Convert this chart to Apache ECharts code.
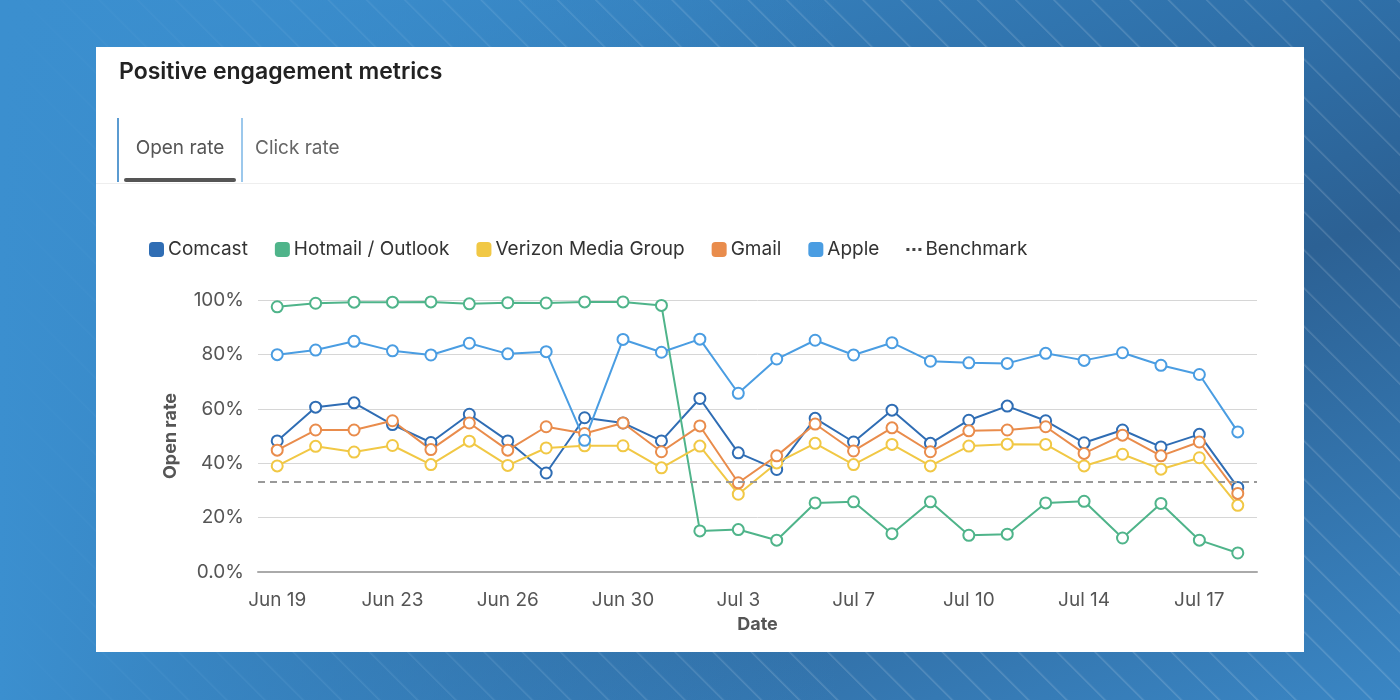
<!DOCTYPE html>
<html>
<head>
<meta charset="utf-8">
<script src="https://cdn.jsdelivr.net/npm/echarts@6/dist/echarts.min.js"></script>
<style>
  html, body { margin: 0; padding: 0; width: 1400px; height: 700px; overflow: hidden; }
  body {
    font-family: Inter, "Noto Sans", sans-serif;
    background:
      linear-gradient(90deg, rgba(59,143,207,1) 0%, rgba(59,143,207,0) 60%),
      repeating-linear-gradient(45deg, rgba(255,255,255,0) 0px, rgba(255,255,255,0) 24px, rgba(255,255,255,0.16) 25px, rgba(255,255,255,0) 27px),
      linear-gradient(160deg, #3b8fcf 0%, #2f70a9 40%, #2c6194 60%, #3a86c4 100%);
  }
  #panel { position: absolute; left: 96px; top: 47px; width: 1208px; height: 605px; background: #fff; }
  #title { position: absolute; left: 23px; top: 10px; font-size: 23px; font-weight: 600; color: #222; }
  .tab { position: absolute; top: 71px; height: 64px; font-size: 19px; color: #555; line-height: 60px; }
  #tab1 { left: 21px; width: 122px; border-left: 2px solid #5b9bd1; border-right: 2px solid #9cc8ec; text-align: center; }
  #tab1:after { content: ""; position: absolute; left: 5px; right: 5px; bottom: 0; height: 4px; border-radius: 2px; background: #555; }
  #tab2 { left: 159px; color: #666; }
  #sep { position: absolute; left: 0; right: 0; top: 136px; height: 1px; background: #eee; }
  #chart { position: absolute; left: 0; top: 0; width: 1208px; height: 605px; }
</style>
</head>
<body>
<div id="panel">
  <div id="chart"></div>
  <div id="title">Positive engagement metrics</div>
  <div class="tab" id="tab1">Open rate</div>
  <div class="tab" id="tab2">Click rate</div>
  <div id="sep"></div>
</div>
<script>
// 日期 (category axis)
var dates = ['Jun 19', 'Jun 20', 'Jun 21', 'Jun 23', 'Jun 24', 'Jun 25', 'Jun 26', 'Jun 27', 'Jun 28',
             'Jun 30', 'Jul 1', 'Jul 2', 'Jul 3', 'Jul 5', 'Jul 6', 'Jul 7', 'Jul 8', 'Jul 9',
             'Jul 10', 'Jul 12', 'Jul 13', 'Jul 14', 'Jul 15', 'Jul 16', 'Jul 17', 'Jul 18'];

// open rate (%) per mailbox provider
var comcast = [48.2, 60.6, 62.2, 54.2, 47.6, 58.0, 48.2, 36.4, 56.7, 54.8, 48.2, 63.8, 43.8,
               37.7, 56.5, 47.8, 59.5, 47.3, 55.8, 61.0, 55.6, 47.5, 52.2, 46.0, 50.6, 31.1];
var hotmail = [97.5, 98.8, 99.2, 99.2, 99.3, 98.6, 99.0, 98.9, 99.3, 99.3, 98.0, 15.1, 15.6,
               11.7, 25.4, 25.8, 14.1, 25.8, 13.5, 13.9, 25.4, 26.0, 12.5, 25.2, 11.7, 7.0];
var verizon = [39.0, 46.2, 44.1, 46.5, 39.5, 48.1, 39.2, 45.6, 46.4, 46.4, 38.3, 46.3, 28.6,
               40.1, 47.3, 39.5, 46.9, 39.0, 46.3, 47.0, 46.9, 39.0, 43.3, 37.8, 42.0, 24.5];
var gmail   = [44.8, 52.2, 52.2, 55.6, 45.0, 54.8, 44.8, 53.4, 50.9, 54.8, 44.2, 53.7, 32.8,
               42.7, 54.4, 44.5, 53.0, 44.2, 51.9, 52.2, 53.4, 43.6, 50.3, 42.7, 47.8, 28.9];
var apple   = [79.9, 81.6, 84.8, 81.3, 79.8, 84.1, 80.2, 81.0, 48.4, 85.5, 80.8, 85.6, 65.7,
               78.3, 85.2, 79.8, 84.3, 77.5, 76.9, 76.7, 80.4, 77.8, 80.6, 76.0, 72.6, 51.5];
var benchmark = 33;

var colors = ['#2f6db4', '#4fb48a', '#f1c845', '#e98c4c', '#4a9de2'];

function lineSeries(name, data, color){
    return {
        name: name,
        type: 'line',
        data: data,
        symbol: 'emptyCircle',
        symbolSize: 11,
        itemStyle: { color: color, borderWidth: 2 },
        lineStyle: { width: 2, color: color }
    };
}

var chart = echarts.init(document.getElementById('chart'));
var option = {
    animation: false,
    textStyle: { fontFamily: 'Inter, "Noto Sans", sans-serif' },
    legend: {
        left: 48,
        top: 188,
        itemWidth: 15,
        itemHeight: 15,
        itemGap: 27,
        textStyle: { fontSize: 19, color: '#333', padding: [0, 0, 0, -1] },
        data: [
            { name: 'Comcast', icon: 'roundRect' },
            { name: 'Hotmail / Outlook', icon: 'roundRect' },
            { name: 'Verizon Media Group', icon: 'roundRect' },
            { name: 'Gmail', icon: 'roundRect' },
            { name: 'Apple', icon: 'roundRect' },
            { name: 'Benchmark', icon: 'path://M0,6h2v2h-2z M4,6h2v2h-2z M8,6h2v2h-2z', itemStyle: { color: '#444' } }
        ]
    },
    grid: { left: 162, right: 47, top: 253, bottom: 80 },
    xAxis: {
        type: 'category',
        data: dates,
        name: 'Date',
        nameLocation: 'middle',
        nameGap: 44,
        nameTextStyle: { fontSize: 18, fontWeight: 'bold', color: '#555' },
        axisLine: { lineStyle: { color: '#aaa', width: 2 } },
        axisTick: { alignWithLabel: true, interval: 2, length: 7, lineStyle: { color: '#ccc' } },
        axisLabel: { interval: 2, fontSize: 19, color: '#555', margin: 19 }
    },
    yAxis: {
        type: 'value',
        min: 0,
        max: 100,
        interval: 20,
        name: 'Open rate',
        nameLocation: 'middle',
        nameGap: 78,
        nameTextStyle: { fontSize: 18, fontWeight: 'bold', color: '#555' },
        axisLine: { show: false },
        axisTick: { show: false },
        axisLabel: {
            fontSize: 19, color: '#555', margin: 14,
            formatter: function(v){ return v === 0 ? '0.0%' : v + '%'; }
        },
        splitLine: { lineStyle: { color: '#d6d6d6', width: 1 } }
    },
    series: [
        lineSeries('Comcast', comcast, colors[0]),
        lineSeries('Hotmail / Outlook', hotmail, colors[1]),
        lineSeries('Verizon Media Group', verizon, colors[2]),
        lineSeries('Gmail', gmail, colors[3]),
        lineSeries('Apple', apple, colors[4]),
        {
            name: 'Benchmark',
            type: 'line',
            data: [],
            itemStyle: { color: '#444' },
            markLine: {
                silent: true,
                symbol: 'none',
                label: { show: false },
                lineStyle: { type: [7, 5], color: '#999', width: 2 },
                data: [{ yAxis: benchmark }]
            }
        }
    ]
};
chart.setOption(option);
</script>
</body>
</html>
